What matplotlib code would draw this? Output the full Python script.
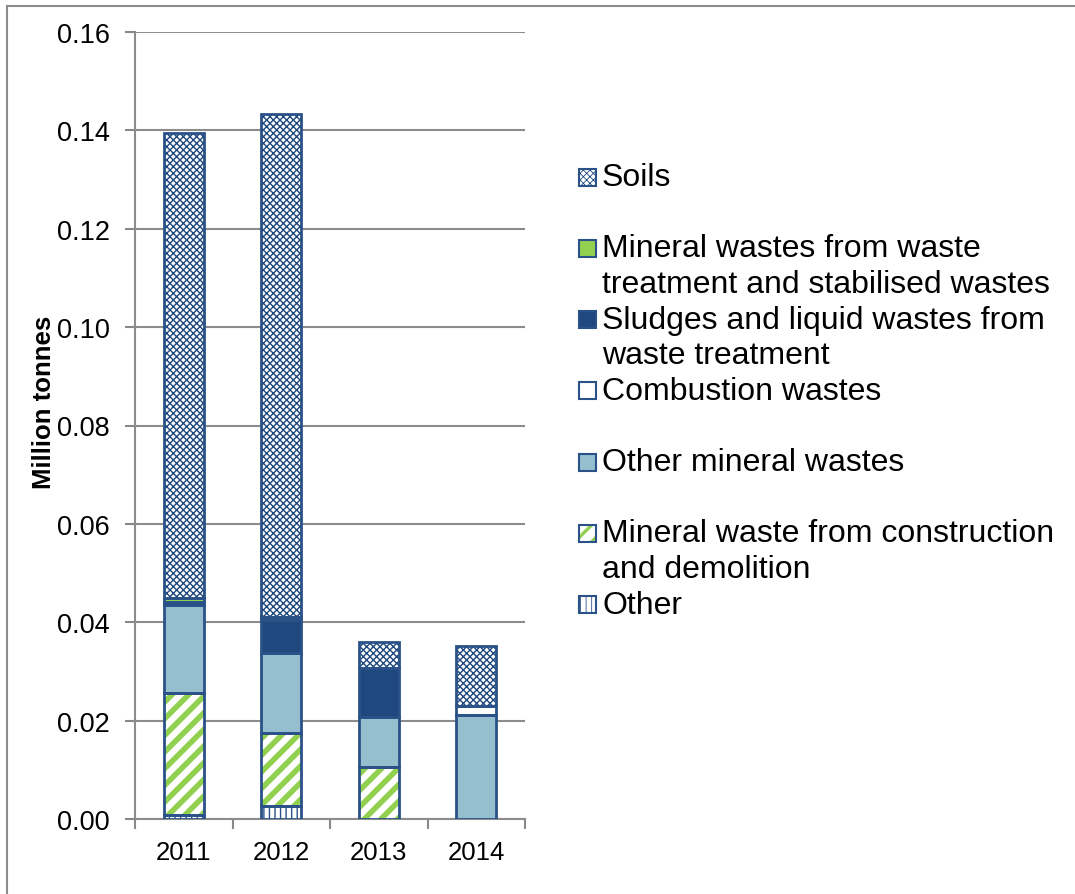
import matplotlib
matplotlib.use("Agg")
import matplotlib.pyplot as plt
import numpy as np
from matplotlib.lines import Line2D
from matplotlib.patches import Rectangle

plt.rcParams["font.family"] = ["Liberation Sans", "DejaVu Sans"]

years = ["2011", "2012", "2013", "2014"]

# stacked from the bottom up
other = [0.0008, 0.0026, 0.0, 0.0]
construction = [0.0248, 0.0149, 0.0106, 0.0]
other_mineral = [0.0179, 0.0162, 0.0101, 0.0212]
combustion = [0.0, 0.0, 0.0, 0.0017]
sludges = [0.0006, 0.0068, 0.0099, 0.0]
mineral_treatment = [0.0009, 0.0005, 0.0, 0.0]
soils = [0.0945, 0.1023, 0.0054, 0.0123]

legend_labels = [
    "Soils",
    "Mineral wastes from waste\ntreatment and stabilised wastes",
    "Sludges and liquid wastes from\nwaste treatment",
    "Combustion wastes",
    "Other mineral wastes",
    "Mineral waste from construction\nand demolition",
    "Other",
]

EDGE = "#2A5289"
DARK = "#1F487E"
LIGHT = "#95BFCF"
GREEN = "#92D050"

# (values, face, hatch, hatch colour)
series = [
    (other, "white", "|||", EDGE),
    (construction, "white", "//", GREEN),
    (other_mineral, LIGHT, None, None),
    (combustion, "white", None, None),
    (sludges, DARK, None, None),
    (mineral_treatment, GREEN, None, None),
    (soils, "white", "xxxxx", DARK),
]

W, H = 1075, 895
fig = plt.figure(figsize=(W / 100, H / 100), dpi=100)
ax = fig.add_axes([135 / W, 1 - 820 / H, 390 / W, 787 / H])

x = np.arange(len(years))
bottom = np.zeros(len(years))
width = 0.41
for vals, face, hatch, hcol in series:
    vals = np.array(vals)
    if hatch:
        lw = 4.0 if hatch == "//" else 1.0
        with plt.rc_context({"hatch.linewidth": lw}):
            bars = ax.bar(x, vals, width, bottom=bottom, color=face,
                          edgecolor=hcol, hatch=hatch, linewidth=0, zorder=3)
            for b in bars:
                if hasattr(b, "set_hatch_linewidth"):
                    b.set_hatch_linewidth(lw)
    else:
        ax.bar(x, vals, width, bottom=bottom, color=face, linewidth=0, zorder=3)
    # outline
    for xi, v, b0 in zip(x, vals, bottom):
        if v > 0:
            ax.add_patch(Rectangle((xi - width / 2, b0), width, v, fill=False,
                                   edgecolor=EDGE, linewidth=2, zorder=4))
    bottom += vals

ax.set_xlim(-0.5, 3.5)
ax.set_ylim(0, 0.16)
ax.set_yticks(np.arange(0, 0.161, 0.02))
ax.yaxis.set_major_formatter(plt.FormatStrFormatter("%.2f"))
ax.set_xticks(x)
ax.set_xticklabels(years)
ax.set_xticks(np.arange(-0.5, 4.0, 1.0), minor=True)
ax.tick_params(axis="x", which="major", length=0, labelsize=18.5, pad=15)
ax.tick_params(axis="x", which="minor", length=7, color="#888888", width=1.5)
ax.tick_params(axis="y", length=7, color="#888888", width=1.5, labelsize=19.5, pad=11)
ax.grid(True, axis="y", color="#8C8C8C", linewidth=1.5, zorder=0)
for s in ("top", "right"):
    ax.spines[s].set_visible(False)
for s in ("left", "bottom"):
    ax.spines[s].set_color("#8C8C8C")
    ax.spines[s].set_linewidth(1.5)
ax.set_ylabel("Million tonnes", fontsize=18.5, fontweight="bold")
ax.yaxis.set_label_coords((56 - 135) / 390, (820 - 402) / 787)

# legend drawn by hand (Excel style, marker on first line)
handles = list(reversed(series))
y0, step, line_h = 178, 71.3, 35.5
for i, (lab, (vals, face, hatch, hcol)) in enumerate(zip(legend_labels, handles)):
    yc = y0 + i * step
    s = 17
    lw = 4.0 if hatch == "//" else 1.0
    with plt.rc_context({"hatch.linewidth": lw * 0.6}):
        r = Rectangle(((579) / W, 1 - (yc + s / 2) / H), s / W, s / H,
                      facecolor=face, edgecolor=hcol if hatch else EDGE,
                      hatch=hatch, linewidth=0 if hatch else 1.5,
                      transform=fig.transFigure)
        fig.add_artist(r)
    if hatch:
        fig.add_artist(Rectangle((579 / W, 1 - (yc + s / 2) / H), s / W, s / H,
                                 fill=False, edgecolor=EDGE, linewidth=1.5,
                                 transform=fig.transFigure))
    for j, line in enumerate(lab.split("\n")):
        fig.text(602 / W, 1 - (yc + j * line_h) / H, line, fontsize=23,
                 va="center", ha="left")

# chart area border (left and top visible)
fig.add_artist(Line2D([7 / W, 7 / W], [0, 1 - 7 / H], color="#8C8C8C",
                      linewidth=1.5, transform=fig.transFigure))
fig.add_artist(Line2D([7 / W, 1], [1 - 7 / H, 1 - 7 / H], color="#8C8C8C",
                      linewidth=1.5, transform=fig.transFigure))

fig.savefig("out.png", dpi=100)
